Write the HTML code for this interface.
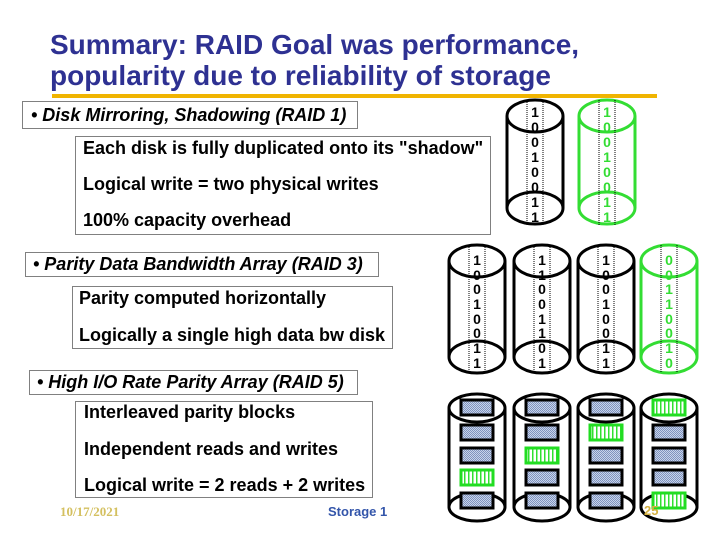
<!DOCTYPE html><html><head><style>body{margin:0;background:#fff}svg{display:block}</style></head><body>
<svg width="720" height="540" xmlns="http://www.w3.org/2000/svg" font-family="Liberation Sans, Arial, sans-serif">
<defs>
<pattern id="chk" width="2" height="2" patternUnits="userSpaceOnUse"><rect width="2" height="2" fill="#c8d4ea"/><rect width="1" height="1" fill="#7f93bf"/><rect x="1" y="1" width="1" height="1" fill="#7f93bf"/></pattern>
<pattern id="str" width="4" height="4" patternUnits="userSpaceOnUse"><rect width="4" height="4" fill="#fff"/><rect width="1.5" height="4" fill="#30e030"/></pattern>
</defs>
<text x="50" y="54" font-size="28" font-weight="bold" fill="#2e3192">Summary: RAID Goal was performance,</text>
<text x="50" y="85" font-size="28" font-weight="bold" fill="#2e3192">popularity due to reliability of storage</text>
<rect x="52" y="94" width="605" height="4" fill="#f0b400"/>
<g fill="none" stroke="#000" stroke-dasharray="1 1">
<rect x="22.5" y="101.5" width="335" height="27"/>
<rect x="75.5" y="136.5" width="415" height="98"/>
<rect x="25.5" y="252.5" width="353" height="24"/>
<rect x="72.5" y="286.5" width="320" height="62"/>
<rect x="29.5" y="370.5" width="328" height="24"/>
<rect x="75.5" y="401.5" width="297" height="96"/>
</g>
<g font-weight="bold" font-size="18" fill="#000">
<text x="31" y="121" font-style="italic">• Disk Mirroring, Shadowing (RAID 1)</text>
<text x="83" y="154">Each disk is fully duplicated onto its "shadow"</text>
<text x="83" y="190">Logical write = two physical writes</text>
<text x="83" y="226">100% capacity overhead</text>
<text x="33" y="270" font-style="italic">• Parity Data Bandwidth Array (RAID 3)</text>
<text x="79" y="304">Parity computed horizontally</text>
<text x="79" y="341">Logically a single high data bw disk</text>
<text x="37" y="388" font-style="italic">• High I/O Rate Parity Array (RAID 5)</text>
<text x="84" y="418">Interleaved parity blocks</text>
<text x="84" y="455">Independent reads and writes</text>
<text x="84" y="491">Logical write = 2 reads + 2 writes</text>
</g>
<text x="60" y="516" font-family="Liberation Serif, serif" font-weight="bold" font-size="13" fill="#d4c060">10/17/2021</text>
<text x="328" y="516" font-weight="bold" font-size="13" fill="#3355aa">Storage 1</text>
<g stroke-width="3" fill="none">
<g stroke="#000"><ellipse cx="535" cy="116" rx="28" ry="16"/><ellipse cx="535" cy="208" rx="28" ry="16"/><path d="M507 116V208M563 116V208"/></g>
<g stroke="#33dd33"><ellipse cx="607" cy="116" rx="28" ry="16"/><ellipse cx="607" cy="208" rx="28" ry="16"/><path d="M579 116V208M635 116V208"/></g>
<g stroke="#000"><ellipse cx="477" cy="261" rx="28" ry="16"/><ellipse cx="477" cy="357" rx="28" ry="16"/><path d="M449 261V357M505 261V357"/>
<ellipse cx="542" cy="261" rx="28" ry="16"/><ellipse cx="542" cy="357" rx="28" ry="16"/><path d="M514 261V357M570 261V357"/>
<ellipse cx="606" cy="261" rx="28" ry="16"/><ellipse cx="606" cy="357" rx="28" ry="16"/><path d="M578 261V357M634 261V357"/></g>
<g stroke="#33dd33"><ellipse cx="669" cy="261" rx="28" ry="16"/><ellipse cx="669" cy="357" rx="28" ry="16"/><path d="M641 261V357M697 261V357"/></g>
<g stroke="#000"><ellipse cx="477" cy="408" rx="28" ry="14"/><ellipse cx="477" cy="507" rx="28" ry="14"/><path d="M449 408V507M505 408V507"/>
<ellipse cx="542" cy="408" rx="28" ry="14"/><ellipse cx="542" cy="507" rx="28" ry="14"/><path d="M514 408V507M570 408V507"/>
<ellipse cx="606" cy="408" rx="28" ry="14"/><ellipse cx="606" cy="507" rx="28" ry="14"/><path d="M578 408V507M634 408V507"/>
<ellipse cx="669" cy="408" rx="28" ry="14"/><ellipse cx="669" cy="507" rx="28" ry="14"/><path d="M641 408V507M697 408V507"/></g>
</g>
<g stroke="#000" stroke-width="1" stroke-dasharray="1 1" fill="none">
<path d="M527 100V226M543 100V226M599 100V226M615 100V226"/>
<path d="M469 245V373M485 245V373M534 245V373M550 245V373M598 245V373M614 245V373M661 245V373M677 245V373"/>
</g>
<g font-weight="bold" font-size="14" text-anchor="middle">
<g fill="#000"><text x="535" y="117">1</text><text x="535" y="132">0</text><text x="535" y="147">0</text><text x="535" y="162">1</text><text x="535" y="177">0</text><text x="535" y="192">0</text><text x="535" y="207">1</text><text x="535" y="222">1</text></g>
<g fill="#33dd33"><text x="607" y="117">1</text><text x="607" y="132">0</text><text x="607" y="147">0</text><text x="607" y="162">1</text><text x="607" y="177">0</text><text x="607" y="192">0</text><text x="607" y="207">1</text><text x="607" y="222">1</text></g>
<g fill="#000">
<text x="477" y="265">1</text><text x="477" y="280">0</text><text x="477" y="294">0</text><text x="477" y="309">1</text><text x="477" y="324">0</text><text x="477" y="338">0</text><text x="477" y="353">1</text><text x="477" y="368">1</text>
<text x="542" y="265">1</text><text x="542" y="280">1</text><text x="542" y="294">0</text><text x="542" y="309">0</text><text x="542" y="324">1</text><text x="542" y="338">1</text><text x="542" y="353">0</text><text x="542" y="368">1</text>
<text x="606" y="265">1</text><text x="606" y="280">0</text><text x="606" y="294">0</text><text x="606" y="309">1</text><text x="606" y="324">0</text><text x="606" y="338">0</text><text x="606" y="353">1</text><text x="606" y="368">1</text></g>
<g fill="#33dd33"><text x="669" y="265">0</text><text x="669" y="280">0</text><text x="669" y="294">1</text><text x="669" y="309">1</text><text x="669" y="324">0</text><text x="669" y="338">0</text><text x="669" y="353">1</text><text x="669" y="368">0</text></g>
</g>
<g stroke-width="3">
<g stroke="#000" fill="url(#chk)">
<rect x="461" y="400" width="32" height="15"/><rect x="461" y="425" width="32" height="15"/><rect x="461" y="448" width="32" height="15"/><rect x="461" y="493" width="32" height="15"/>
<rect x="526" y="400" width="32" height="15"/><rect x="526" y="425" width="32" height="15"/><rect x="526" y="470" width="32" height="15"/><rect x="526" y="493" width="32" height="15"/>
<rect x="590" y="400" width="32" height="15"/><rect x="590" y="448" width="32" height="15"/><rect x="590" y="470" width="32" height="15"/><rect x="590" y="493" width="32" height="15"/>
<rect x="653" y="425" width="32" height="15"/><rect x="653" y="448" width="32" height="15"/><rect x="653" y="470" width="32" height="15"/></g>
<g stroke="#22dd22" fill="url(#str)">
<rect x="461" y="470" width="32" height="15"/><rect x="526" y="448" width="32" height="15"/><rect x="590" y="425" width="32" height="15"/><rect x="653" y="400" width="32" height="15"/><rect x="653" y="493" width="32" height="15"/></g>
</g>
<text x="644" y="515" font-size="13" font-weight="bold" fill="#d4b040">25</text>
</svg>
</body></html>
